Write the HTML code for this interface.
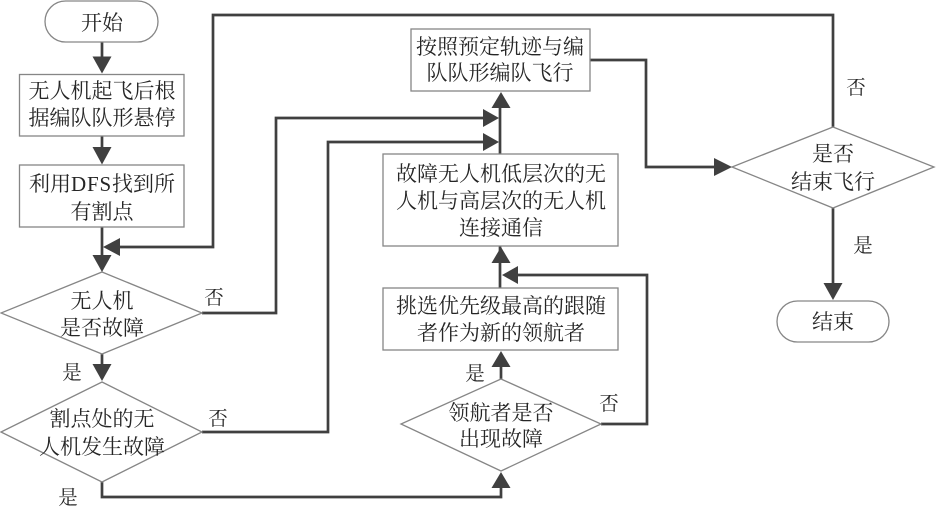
<!DOCTYPE html>
<html><head><meta charset="utf-8"><style>
html,body{margin:0;padding:0;background:#fff}
svg{display:block}
text{font-family:"Liberation Serif","Noto Serif CJK SC",serif;font-size:21px;fill:#262626;text-anchor:middle}
text.s{font-size:19.5px}
.b{fill:#fff;stroke:#868686;stroke-width:1.3}
.l{fill:none;stroke:#404040;stroke-width:2.7}
.a{fill:#404040;stroke:none}
</style></head><body>
<svg width="936" height="508" viewBox="0 0 936 508" xmlns="http://www.w3.org/2000/svg">
<!-- connectors -->
<path class="l" d="M102 42V60M102 136V150M102 227V258M102 354V367M102 482V497H501V486"/>
<path class="l" d="M202 313H276V118H486M202 432H328V142H486M500 154V106M500 246V262M500 262V288"/>
<path class="l" d="M501 379V365M601 424H647V275H516M590 60H646V167H716"/>
<path class="l" d="M833 127V15H213V247H118M833 208V286"/>
<!-- nodes -->
<rect class="b" x="45" y="1" width="113" height="41" rx="20.5"/>
<rect class="b" x="19.500" y="74.500" width="164.500" height="61.500"/>
<rect class="b" x="19.500" y="165" width="164.500" height="62"/>
<polygon class="b" points="102,272 202,313 102,354 1,313"/>
<polygon class="b" points="102,382 202,432 102,482 1,432"/>
<rect class="b" x="383" y="154" width="235" height="92"/>
<rect class="b" x="383" y="288" width="235" height="62"/>
<polygon class="b" points="501,379 601,424 501,471 401,424"/>
<rect class="b" x="411" y="29" width="179" height="62"/>
<polygon class="b" points="833,127 934,167 833,208 732,167"/>
<rect class="b" x="777" y="301" width="112" height="41" rx="20.5"/>
<!-- arrowheads -->
<polygon class="a" points="102,73.500 92.500,56.500 111.500,56.500"/>
<polygon class="a" points="102,164.500 92.500,147 111.500,147"/>
<polygon class="a" points="102,272 92.500,255 111.500,255"/>
<polygon class="a" points="102,381 92.500,364 111.500,364"/>
<polygon class="a" points="103,247 120,238 120,256"/>
<polygon class="a" points="501,472 491.500,488 510.500,488"/>
<polygon class="a" points="501,92 491.500,108 510.500,108"/>
<polygon class="a" points="499,118 483,109 483,127"/>
<polygon class="a" points="499,142 483,133 483,151"/>
<polygon class="a" points="501,247 491.500,263 510.500,263"/>
<polygon class="a" points="502,275 518,266 518,284"/>
<polygon class="a" points="501,351 491.500,367 510.500,367"/>
<polygon class="a" points="732,167 714,158 714,176"/>
<polygon class="a" points="833,300 823.500,283 842.500,283"/>
<!-- labels -->
<text x="102" y="30">开始</text>
<text x="102" y="98">无人机起飞后根</text>
<text x="102" y="125">据编队队形悬停</text>
<text x="102" y="191">利用<tspan letter-spacing="0.8">DFS</tspan>找到所</text>
<text x="102" y="219">有割点</text>
<text x="102" y="308">无人机</text>
<text x="102" y="335">是否故障</text>
<text x="102" y="426">割点处的无</text>
<text x="102" y="454">人机发生故障</text>
<text x="501" y="181">故障无人机低层次的无</text>
<text x="501" y="208">人机与高层次的无人机</text>
<text x="501" y="235">连接通信</text>
<text x="501" y="313">挑选优先级最高的跟随</text>
<text x="501" y="340">者作为新的领航者</text>
<text x="501" y="420">领航者是否</text>
<text x="501" y="446">出现故障</text>
<text x="500" y="54">按照预定轨迹与编</text>
<text x="500" y="80">队队形编队飞行</text>
<text x="833" y="161">是否</text>
<text x="833" y="189">结束飞行</text>
<text x="833" y="329">结束</text>
<text class="s" x="214" y="304">否</text>
<text class="s" x="218" y="425">否</text>
<text class="s" x="72" y="379">是</text>
<text class="s" x="68" y="504">是</text>
<text class="s" x="475" y="380">是</text>
<text class="s" x="609" y="410">否</text>
<text class="s" x="856" y="94">否</text>
<text class="s" x="863" y="252">是</text>
</svg>
</body></html>
